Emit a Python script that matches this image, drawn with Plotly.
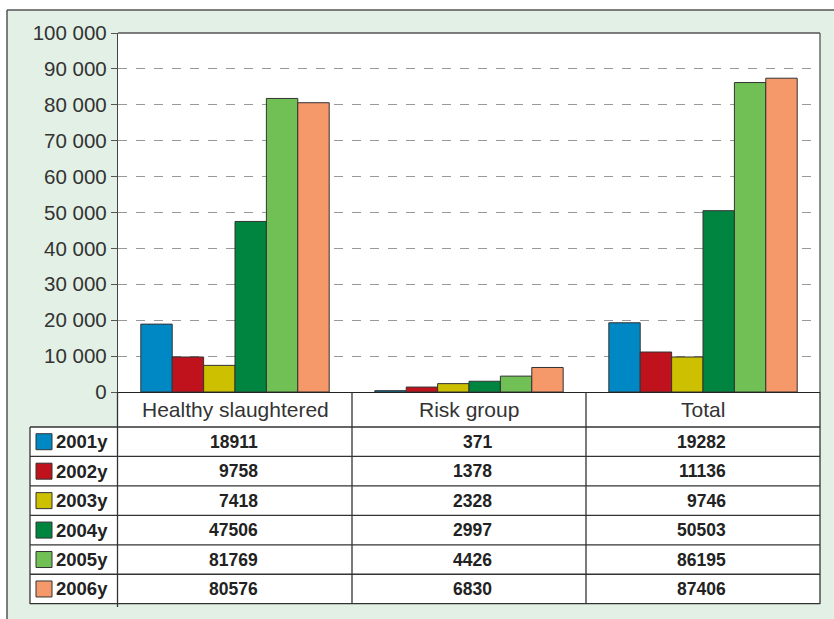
import plotly.graph_objects as go

categories = ["Healthy slaughtered", "Risk group", "Total"]
years = ["2001y", "2002y", "2003y", "2004y", "2005y", "2006y"]
values = {
    "2001y": [18911, 371, 19282],
    "2002y": [9758, 1378, 11136],
    "2003y": [7418, 2328, 9746],
    "2004y": [47506, 2997, 50503],
    "2005y": [81769, 4426, 86195],
    "2006y": [80576, 6830, 87406],
}
colors = ["#0088c4", "#c0121c", "#ccc000", "#008540", "#70c055", "#f5986a"]
y_ticks = list(range(0, 100001, 10000))

W, H = 834, 619
L, R, T, B = 118, 820, 33, 392
FONT = "Liberation Sans, Arial"


def px(x):
    return (x - L) / (R - L)


def py(y):
    return (B - y) / (B - T)


fig = go.Figure()
for yr, col in zip(years, colors):
    fig.add_trace(go.Bar(
        x=categories, y=values[yr], name=yr,
        marker=dict(color=col, line=dict(color="#333333", width=1)),
        showlegend=False,
    ))

shapes = []
# green frame background (no border), then top and left border lines
shapes.append(dict(type="rect", xref="paper", yref="paper", layer="below",
                   x0=px(7), x1=px(860), y0=py(10), y1=py(660),
                   fillcolor="#e2f0e5", line=dict(width=0)))
shapes.append(dict(type="line", xref="paper", yref="paper", layer="below",
                   x0=px(7), x1=px(860), y0=py(10), y1=py(10),
                   line=dict(color="#555555", width=1.5)))
shapes.append(dict(type="line", xref="paper", yref="paper", layer="below",
                   x0=px(7), x1=px(7), y0=py(10), y1=py(660),
                   line=dict(color="#555555", width=1.5)))
# plot area white
shapes.append(dict(type="rect", xref="paper", yref="paper", layer="below",
                   x0=0, x1=1, y0=0, y1=1, fillcolor="white", line=dict(width=0)))
# table white
shapes.append(dict(type="rect", xref="paper", yref="paper", layer="below",
                   x0=px(118), x1=px(820), y0=py(392), y1=py(427),
                   fillcolor="white", line=dict(width=0)))
shapes.append(dict(type="rect", xref="paper", yref="paper", layer="below",
                   x0=px(30), x1=px(820), y0=py(427), y1=py(604),
                   fillcolor="white", line=dict(width=0)))

row_tops = [427 + i * 29.45 for i in range(7)]
line_col = "#333333"
for yy in row_tops:
    shapes.append(dict(type="line", xref="paper", yref="paper", layer="above",
                       x0=px(30), x1=px(820), y0=py(yy), y1=py(yy),
                       line=dict(color=line_col, width=1.3)))
for xx, y0, y1 in [(30, 427, 604), (117.5, 392, 607), (352, 392, 604),
                   (586, 392, 604), (820, 392, 604)]:
    shapes.append(dict(type="line", xref="paper", yref="paper", layer="above",
                       x0=px(xx), x1=px(xx), y0=py(y0), y1=py(y1),
                       line=dict(color=line_col, width=1.3)))
shapes.append(dict(type="line", xref="paper", yref="paper", layer="above",
                   x0=0, x1=1, y0=1, y1=1, line=dict(color="#555555", width=1.3)))
shapes.append(dict(type="line", xref="paper", yref="paper", layer="above",
                   x0=1, x1=1, y0=0, y1=1, line=dict(color="#555555", width=1.3)))

annotations = []
for c in categories:
    annotations.append(dict(x=c, xref="x", y=py(410), yref="paper", text=c,
                            showarrow=False, xanchor="center", yanchor="middle",
                            font=dict(family=FONT, size=21, color="#333333")))
for i, (yr, col) in enumerate(zip(years, colors)):
    yc = (row_tops[i] + row_tops[i + 1]) / 2
    shapes.append(dict(type="rect", xref="paper", yref="paper", layer="above",
                       x0=px(36), x1=px(52), y0=py(yc - 8), y1=py(yc + 8),
                       fillcolor=col, line=dict(color="#333333", width=1)))
    annotations.append(dict(x=px(54), xref="paper", y=py(yc), yref="paper", text="<b>%s</b>" % yr,
                            showarrow=False, xanchor="left", yanchor="middle",
                            font=dict(family=FONT, size=18.5, color="#222222")))
    for c, v in zip(categories, values[yr]):
        annotations.append(dict(x=c, xref="x", xshift=25, y=py(yc), yref="paper",
                                text="<b>%d</b>" % v, showarrow=False,
                                xanchor="right", yanchor="middle",
                                font=dict(family=FONT, size=17.5, color="#222222")))

fig.update_layout(
    width=W, height=H,
    margin=dict(l=L, r=W - R, t=T, b=H - B, pad=0),
    paper_bgcolor="white",
    plot_bgcolor="rgba(0,0,0,0)",
    barmode="group", bargap=0.195, bargroupgap=0,
    separators=". ",
    shapes=shapes, annotations=annotations,
    font=dict(family=FONT, color="#333333"),
    xaxis=dict(showticklabels=False, ticks="", showgrid=False, showline=True,
               linecolor="#222222", linewidth=1.3, zeroline=False, fixedrange=True),
    yaxis=dict(range=[0, 100000], tickvals=y_ticks, tickformat=",d",
               ticks="outside", ticklen=6, tickcolor="#555555", tickwidth=1,
               showline=True, linecolor="#444444", linewidth=1.3,
               showgrid=True, gridcolor="#999999", griddash="dash", gridwidth=1,
               zeroline=False, tickfont=dict(family=FONT, size=20.5, color="#333333")),
)

fig.write_html("out.html", config={"displayModeBar": False},
               post_script="document.body.style.margin='0';document.body.style.overflow='hidden';")
